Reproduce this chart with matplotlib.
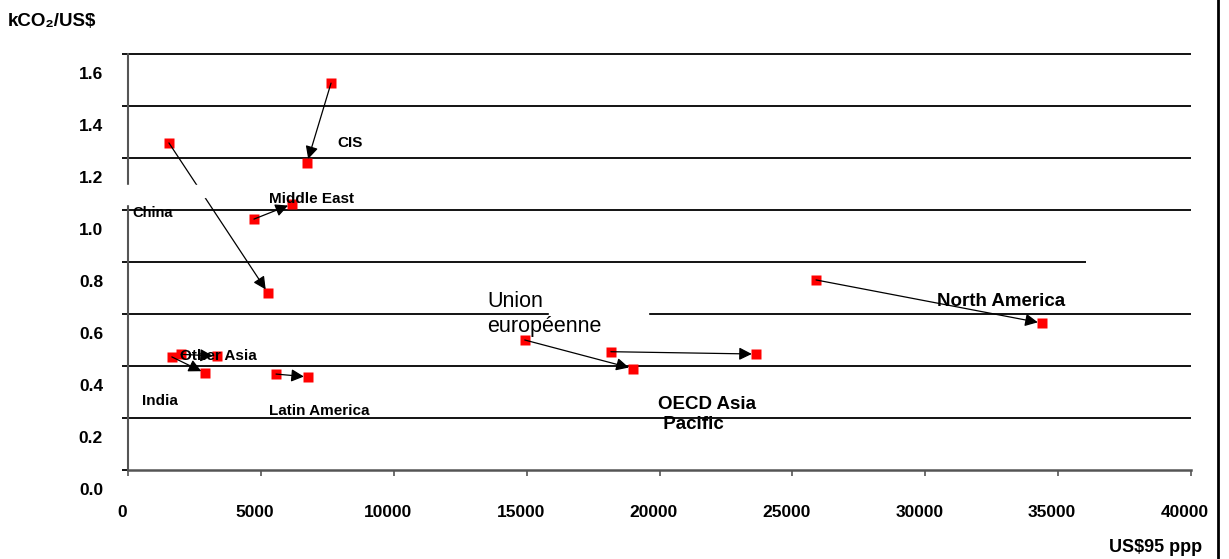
import matplotlib
matplotlib.use('Agg')
import matplotlib.pyplot as plt
from matplotlib.transforms import ScaledTranslation
from matplotlib.patches import Rectangle
from matplotlib.lines import Line2D

plt.rcParams['font.family'] = ['Liberation Sans', 'DejaVu Sans']

# data: start (first year) and end (last year) of each region
regions = ['China', 'CIS', 'Middle East', 'India', 'Other Asia', 'Latin America',
           'Union européenne', 'OECD Asia Pacific', 'North America']
x_start = [1540, 7640, 4740, 1650, 2000, 5570, 14930, 18170, 25890]
y_start = [1.258, 1.488, 0.965, 0.435, 0.445, 0.369, 0.500, 0.455, 0.731]
x_end = [5268, 6735, 6170, 2900, 3350, 6775, 19000, 23630, 34390]
y_end = [0.681, 1.181, 1.023, 0.373, 0.438, 0.358, 0.390, 0.446, 0.565]

y_ticks = [0.0, 0.2, 0.4, 0.6, 0.8, 1.0, 1.2, 1.4, 1.6]
y_ticklabels = ['0.0', '0.2', '0.4', '0.6', '0.8', '1.0', '1.2', '1.4', '1.6']
x_ticks = [0, 5000, 10000, 15000, 20000, 25000, 30000, 35000, 40000]
grid_vals = [0.2, 0.4, 0.6, 0.8, 1.0, 1.2, 1.4, 1.6]
grid_end = [40000, 40000, 40000, 36050, 40000, 40000, 40000, 40000]

W, H = 1229, 559
fig = plt.figure(figsize=(W / 100, H / 100), dpi=100)
ax = fig.add_axes([128 / W, 1 - 470 / H, (1191 - 128) / W, (470 - 54) / H])
ax.set_xlim(0, 40000)
ax.set_ylim(0, 1.6)

# horizontal lines
ax.hlines(grid_vals, 0, grid_end, color='black', lw=1.3, clip_on=False, zorder=1)

for s in ['top', 'right']:
    ax.spines[s].set_visible(False)
ax.spines['left'].set_color('#555555')
ax.spines['left'].set_linewidth(1.5)
ax.spines['bottom'].set_color('#555555')
ax.spines['bottom'].set_linewidth(1.8)

ax.set_yticks(y_ticks)
ax.set_yticklabels(y_ticklabels, fontsize=12.5, fontweight='bold')
ax.tick_params(axis='y', length=4.3, width=1.3, color='black', pad=13.7)
ax.set_xticks(x_ticks)
ax.set_xticklabels([str(v) for v in x_ticks], fontsize=12.5, fontweight='bold')
ax.tick_params(axis='x', length=4.3, width=1.2, color='#555555', pad=21)

# labels sit lower than their lines in the original
for lab in ax.get_yticklabels():
    lab.set_transform(lab.get_transform() + ScaledTranslation(0, -19 / 100, fig.dpi_scale_trans))
for lab in ax.get_xticklabels():
    lab.set_transform(lab.get_transform() + ScaledTranslation(-6 / 100, 0, fig.dpi_scale_trans))

# markers
ax.plot(x_start, y_start, 's', color='#ff0000', ms=7, mec='none', zorder=3, clip_on=False)
ax.plot(x_end, y_end, 's', color='#ff0000', ms=7, mec='none', zorder=3, clip_on=False)

for xs, ys, xe, ye in zip(x_start, y_start, x_end, y_end):
    ax.annotate('', xy=(xe, ye), xytext=(xs, ys),
                arrowprops=dict(arrowstyle='-|>', color='black', lw=0.9,
                                mutation_scale=19, shrinkA=0, shrinkB=3),
                zorder=4)

# white gaps seen in the original
ax.add_patch(Rectangle((-150, 1.05), 3050, 0.046, color='white', zorder=5, clip_on=False))
ax.add_patch(Rectangle((-150, 1.022), 300, 0.03, color='white', zorder=5, clip_on=False))
ax.add_patch(Rectangle((15850, 0.585), 3700, 0.03, color='white', zorder=2))

# region labels
small = dict(fontsize=11, fontweight='bold', ha='left', va='center', zorder=6)
big = dict(fontsize=13.5, fontweight='bold', ha='left', va='center', zorder=6)
ax.text(7865, 1.258, 'CIS', **small)
ax.text(5306, 1.042, 'Middle East', **small)
ax.text(150, 0.988, 'China', fontsize=10.5, fontweight='bold', ha='left', va='center', zorder=6)
ax.text(1957, 0.438, 'Other Asia', **small)
ax.text(527, 0.265, 'India', **small)
ax.text(5306, 0.227, 'Latin America', **small)
ax.text(13509, 0.60, 'Union\neuropéenne', fontsize=15.5, ha='left', va='center',
        linespacing=1.3, zorder=6)
ax.text(19944, 0.213, 'OECD Asia\n Pacific', linespacing=1.25, **big)
ax.text(30442, 0.65, 'North America', **big)

fig.text(8 / W, 1 - 22 / H, 'kCO₂/US$', fontsize=13.5, fontweight='bold', ha='left', va='center')
fig.text(1202 / W, 1 - 547 / H, 'US$95 ppp', fontsize=13, fontweight='bold', ha='right', va='center')

fig.add_artist(Line2D([1218 / W, 1218 / W], [0, 1], transform=fig.transFigure, color='black', lw=2))

fig.savefig('out.png', dpi=100)
